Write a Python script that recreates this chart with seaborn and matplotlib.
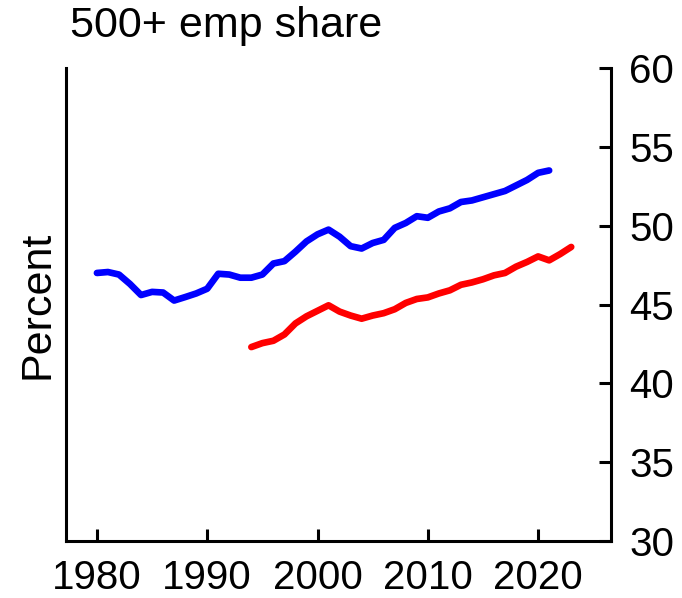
import pandas as pd
import matplotlib
matplotlib.use("Agg")
import matplotlib.pyplot as plt
import seaborn as sns

# series
years_a = list(range(1980, 2022))
share_a = [47.0, 47.06, 46.9, 46.3, 45.6, 45.8, 45.76, 45.25, 45.47, 45.7,
           46.0, 46.95, 46.9, 46.7, 46.7, 46.9, 47.6, 47.75, 48.35, 49.0,
           49.45, 49.75, 49.3, 48.7, 48.55, 48.9, 49.1, 49.86, 50.17, 50.6,
           50.5, 50.9, 51.1, 51.5, 51.6, 51.8, 52.0, 52.2, 52.55, 52.9,
           53.35, 53.5]
years_b = list(range(1994, 2024))
share_b = [42.3, 42.55, 42.7, 43.1, 43.8, 44.25, 44.6, 44.95, 44.55, 44.3,
           44.1, 44.3, 44.45, 44.7, 45.1, 45.35, 45.45, 45.7, 45.9, 46.25,
           46.4, 46.6, 46.85, 47.0, 47.4, 47.7, 48.05, 47.8, 48.2, 48.65]
series_names = ["a", "b"]
x_ticks = [1980, 1990, 2000, 2010, 2020]
y_ticks = [30, 35, 40, 45, 50, 55, 60]

df = pd.concat([
    pd.DataFrame({"year": years_a, "share": share_a, "series": series_names[0]}),
    pd.DataFrame({"year": years_b, "share": share_b, "series": series_names[1]}),
])

sns.set_style("ticks", {"text.color": "black", "xtick.color": "black",
                        "ytick.color": "black", "axes.labelcolor": "black",
                        "axes.edgecolor": "black"})
plt.rcParams["font.family"] = ["Liberation Sans", "DejaVu Sans"]

fig = plt.figure(figsize=(6.82, 5.98), dpi=100)
ax = fig.add_axes([0.0968, 0.0953, 0.799, 0.791])

sns.lineplot(data=df, x="year", y="share", hue="series",
             palette={"a": "#0000ff", "b": "#ff0000"},
             linewidth=4.8, legend=False, ax=ax)

ax.set_xlim(1977.2, 2026.6)
ax.set_ylim(30, 60)
ax.set_xticks(x_ticks)
ax.set_yticks(y_ticks)

ax.spines["top"].set_visible(False)
for s in ["left", "right", "bottom"]:
    ax.spines[s].set_visible(True)
    ax.spines[s].set_linewidth(2.2)
    ax.spines[s].set_color("black")

ax.yaxis.tick_right()
ax.tick_params(axis="y", which="both", direction="in", length=8.6, width=2.2,
               labelsize=29, pad=13, left=False, right=True,
               labelleft=False, labelright=True, colors="black")
ax.tick_params(axis="x", direction="in", length=8.6, width=2.2, bottom=True,
               top=False, labelsize=29, pad=13, colors="black")

ax.set_xlabel("")
ax.set_ylabel("Percent", fontsize=31, color="black")
ax.yaxis.set_label_position("left")
ax.yaxis.set_label_coords(-0.053, 0.5)
ax.yaxis.label.set_va("center")

fig.text(0.103, 0.957, "500+ emp share", fontsize=31, ha="left", va="center",
         color="black")

fig.savefig("out.png", dpi=100)
